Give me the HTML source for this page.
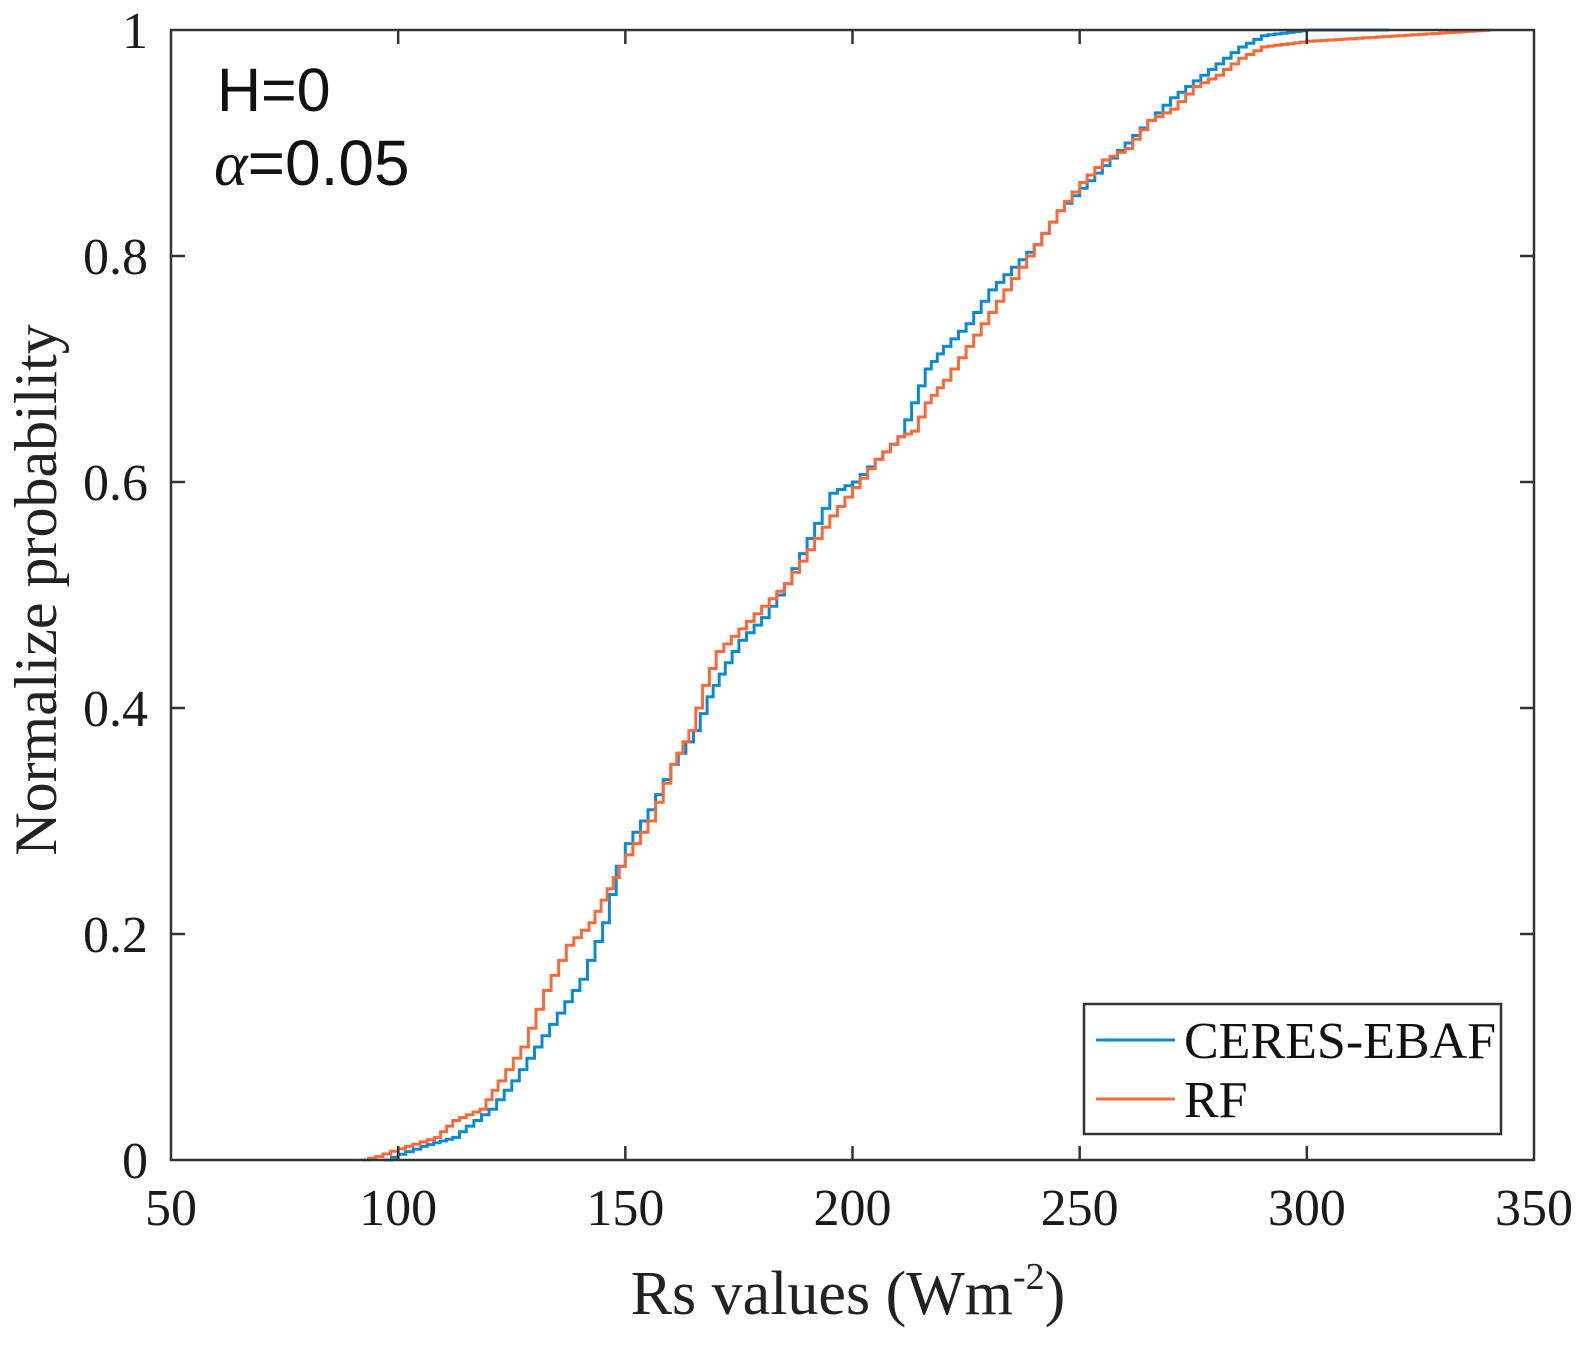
<!DOCTYPE html>
<html><head><meta charset="utf-8"><style>
html,body{margin:0;padding:0;background:#fff;}
svg{display:block;}
</style></head><body>
<svg id="s" width="1584" height="1352" xmlns="http://www.w3.org/2000/svg">
<rect width="1584" height="1352" fill="#fff"/>
<g id="curves"></g>
<rect x="171" y="30" width="1363" height="1130" fill="none" stroke="#333" stroke-width="2.5"/>
<g stroke="#333" stroke-width="2.5" id="ticks"></g>
<g font-family="Liberation Serif, serif" font-size="52" fill="#1a1a1a" id="labels"></g>
<text x="217" y="111" font-family="Liberation Sans, sans-serif" font-size="61" fill="#111">H=0</text>
<text x="214" y="185" font-family="Liberation Sans, sans-serif" font-size="64" fill="#111"><tspan font-family="Liberation Serif, serif" font-style="italic">α</tspan>=0.05</text>
<text x="848" y="1314" text-anchor="middle" font-family="Liberation Serif, serif" font-size="62" fill="#222">Rs values (Wm<tspan dy="-25" font-size="38">-2</tspan><tspan dy="25">)</tspan></text>
<text transform="translate(56,590) rotate(-90)" text-anchor="middle" font-family="Liberation Serif, serif" font-size="60" fill="#222">Normalize probability</text>
<rect x="1084" y="1004" width="417" height="130" fill="#fff" stroke="#333" stroke-width="2.5"/>
<line x1="1096" y1="1040" x2="1175" y2="1040" stroke="#0a8ad2" stroke-width="3"/>
<line x1="1096" y1="1099" x2="1175" y2="1099" stroke="#f86a3a" stroke-width="3"/>
<text x="1184" y="1058" font-family="Liberation Serif, serif" font-size="52" fill="#111">CERES-EBAF</text>
<text x="1184" y="1117" font-family="Liberation Serif, serif" font-size="52" fill="#111">RF</text>
</svg>
<script>
var X=function(v){return 171+(v-50)*1363/300;};
var Y=function(p){return 1160-p*1130;};
var ns="http://www.w3.org/2000/svg";
var tk=document.getElementById('ticks'),lb=document.getElementById('labels');
function el(p,t,a,txt){var e=document.createElementNS(ns,t);for(var k in a)e.setAttribute(k,a[k]);if(txt!==undefined)e.textContent=txt;p.appendChild(e);return e;}
for(var v=50;v<=350;v+=50){var x=X(v);
 if(v>50&&v<350){el(tk,'line',{x1:x,y1:1160,x2:x,y2:1146});el(tk,'line',{x1:x,y1:30,x2:x,y2:44});}
 el(lb,'text',{x:x,y:1225,'text-anchor':'middle'},String(v));}
var yl=['0','0.2','0.4','0.6','0.8','1'];
for(var i=0;i<=5;i++){var y=Y(i*0.2);
 if(i>0&&i<5){el(tk,'line',{x1:171,y1:y,x2:185,y2:y});el(tk,'line',{x1:1534,y1:y,x2:1520,y2:y});}
 el(lb,'text',{x:148,y:y+18,'text-anchor':'end'},yl[i]);}
var ceres=[[97,0],[100,0.005],[105,0.012],[112,0.02],[115,0.03],[120,0.045],[125,0.07],[130,0.1],[135,0.13],[140,0.16],[145,0.21],[148,0.26],[150,0.28],[155,0.31],[160,0.35],[165,0.38],[168,0.41],[172,0.44],[175,0.46],[180,0.48],[185,0.51],[190,0.55],[195,0.59],[200,0.6],[205,0.62],[210,0.64],[213,0.67],[216,0.70],[220,0.72],[225,0.74],[230,0.77],[235,0.79],[240,0.81],[245,0.84],[250,0.86],[255,0.88],[260,0.9],[265,0.92],[270,0.94],[275,0.955],[280,0.97],[285,0.985],[290,0.995],[300,1],[318,1]];
var rf=[[92,0],[95,0.003],[100,0.01],[108,0.02],[112,0.035],[118,0.045],[122,0.07],[127,0.1],[132,0.15],[137,0.19],[142,0.21],[146,0.24],[150,0.27],[155,0.3],[160,0.35],[164,0.38],[167,0.42],[170,0.45],[175,0.47],[180,0.49],[185,0.51],[190,0.54],[195,0.57],[200,0.595],[205,0.62],[210,0.64],[213,0.645],[216,0.67],[220,0.69],[225,0.72],[230,0.75],[235,0.78],[240,0.81],[245,0.84],[250,0.865],[255,0.885],[260,0.895],[265,0.92],[270,0.93],[275,0.95],[280,0.96],[285,0.975],[290,0.985],[300,0.99],[320,0.995],[340,1]];
function path(pts){var d='M'+X(pts[0][0]).toFixed(1)+' '+Y(pts[0][1]).toFixed(1);
 for(var i=1;i<pts.length;i++){var a=pts[i-1],b=pts[i];var n=Math.max(1,Math.round((b[0]-a[0])/1.5));
  for(var j=1;j<=n;j++){var v=a[0]+(b[0]-a[0])*j/n,p=a[1]+(b[1]-a[1])*j/n;
   d+=' H'+X(v).toFixed(1)+' V'+Y(p).toFixed(1);}}
 return d;}
var g=document.getElementById('curves');
el(g,'path',{d:path(ceres),fill:'none',stroke:'#0a8ad2','stroke-width':3});
el(g,'path',{d:path(rf),fill:'none',stroke:'#f86a3a','stroke-width':3});
</script>
</body></html>
